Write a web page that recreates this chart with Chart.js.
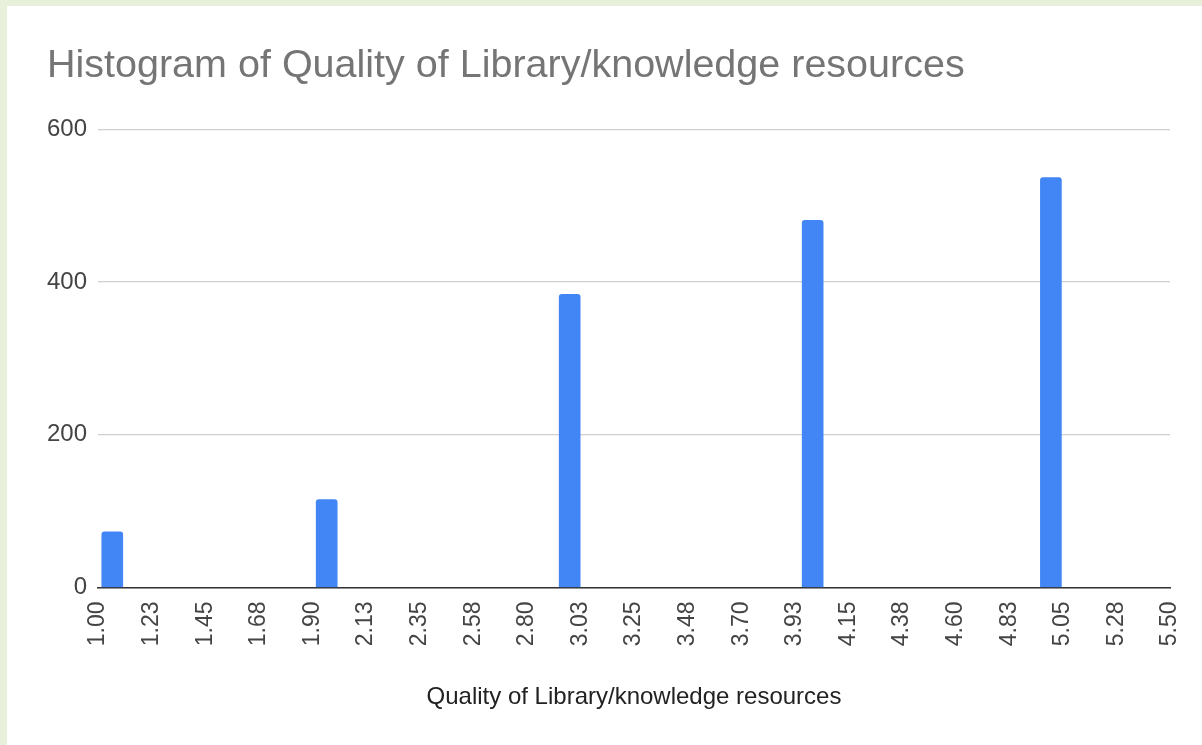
<!DOCTYPE html>
<html>
<head>
<meta charset="utf-8">
<script src="https://cdn.jsdelivr.net/npm/chart.js@4"></script>
<style>
  html, body { margin: 0; padding: 0; background: #e8f0dc; }
  #card { position: absolute; left: 7px; top: 6px; width: 1195px; height: 739px; background: #fff; }
</style>
</head>
<body>
<div id="card"><canvas id="chart" width="1195" height="739"></canvas></div>
<script>
// bucket positions and counts
const bucketCenters = [1.06, 1.96, 2.98, 4.00, 5.00];
const counts = [73, 115, 384, 481, 537];

const binStart = 1.0;
const binWidth = 0.225;
const tickLabels = ['1.00', '1.23', '1.45', '1.68', '1.90', '2.13', '2.35', '2.58', '2.80', '3.03',
  '3.25', '3.48', '3.70', '3.93', '4.15', '4.38', '4.60', '4.83', '5.05', '5.28', '5.50'];
const yTicks = [0, 200, 400, 600];

const font = "'Liberation Sans', Arial, sans-serif";

new Chart(document.getElementById('chart'), {
  type: 'bar',
  data: {
    datasets: [{
      data: bucketCenters.map((x, i) => ({ x: x, y: counts[i] })),
      backgroundColor: '#4285f4',
      barThickness: 21,
      borderRadius: { topLeft: 3, topRight: 3 },
      borderSkipped: 'start'
    }]
  },
  options: {
    responsive: false,
    animation: false,
    maintainAspectRatio: false,
    layout: { padding: { top: 0, left: 40, right: 32, bottom: 33 } },
    plugins: {
      legend: { display: false },
      tooltip: { enabled: false },
      title: {
        display: true,
        text: 'Histogram of Quality of Library/knowledge resources',
        align: 'start',
        color: '#757575',
        font: { family: font, size: 39.5, weight: 'normal' },
        padding: { top: 36, bottom: 40 }
      }
    },
    scales: {
      x: {
        type: 'linear',
        min: binStart,
        max: binStart + binWidth * (tickLabels.length - 1),
        offset: false,
        afterBuildTicks: (axis) => {
          axis.ticks = tickLabels.map((l, i) => ({ value: binStart + i * binWidth }));
        },
        afterFit: (axis) => { axis.paddingRight = 0; axis.paddingLeft = 0; },
        ticks: {
          autoSkip: false,
          minRotation: 90,
          maxRotation: 90,
          padding: 14,
          color: '#444',
          font: { family: font, size: 23 },
          callback: (v, i) => tickLabels[i]
        },
        grid: { display: false, drawTicks: false },
        border: { display: true, color: '#333', width: 1.5 },
        title: {
          display: true,
          text: 'Quality of Library/knowledge resources',
          color: '#222',
          font: { family: font, size: 24 },
          padding: { top: 23, bottom: 0 }
        }
      },
      y: {
        min: 0,
        max: 600,
        afterBuildTicks: (axis) => {
          axis.ticks = yTicks.map(v => ({ value: v }));
        },
        afterFit: (axis) => { axis.width = 51; },
        ticks: {
          padding: 11,
          color: '#444',
          font: { family: font, size: 24 }
        },
        grid: { color: '#d0d0d0', lineWidth: 1.2, drawTicks: false },
        border: { display: false }
      }
    }
  }
});
</script>
</body>
</html>
